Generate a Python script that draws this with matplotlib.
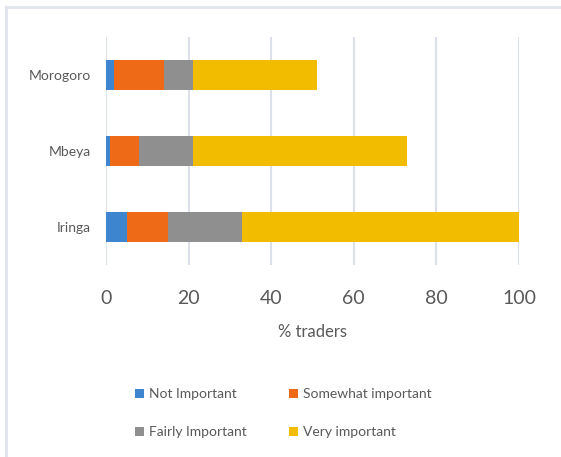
import matplotlib
matplotlib.use("Agg")
import matplotlib.pyplot as plt
from matplotlib.lines import Line2D
from matplotlib.patches import Patch
import numpy as np

plt.rcParams['font.family'] = ['Lato', 'DejaVu Sans']

regions = ["Iringa", "Mbeya", "Morogoro"]
not_important = [5, 1, 2]
somewhat_important = [10, 7, 12]
fairly_important = [18, 13, 7]
very_important = [67, 52, 30]

series = [
    ("Not Important", not_important, "#3d85cf"),
    ("Somewhat important", somewhat_important, "#ef6a17"),
    ("Fairly Important", fairly_important, "#8f8f8f"),
    ("Very important", very_important, "#f2bd00"),
]
xticks = [0, 20, 40, 60, 80, 100]

W, H = 561, 457
fig = plt.figure(figsize=(W / 100, H / 100), dpi=100)
ax = fig.add_axes([106 / W, 1 - 265 / H, (519 - 106) / W, (265 - 37) / H])

y = np.arange(len(regions))
left = np.zeros(len(regions))
handles = []
for name, vals, col in series:
    ax.barh(y, vals, left=left, height=0.4, color=col, zorder=3)
    left += np.array(vals)
    handles.append(Patch(facecolor=col, label=name))

ax.set_xlim(0, 100)
ax.set_ylim(-0.5, 2.5)
ax.set_yticks(y)
ax.set_yticklabels(regions, fontsize=10, color="#595959")
ax.set_xticks(xticks)
ax.set_xticklabels([str(t) for t in xticks], fontsize=14, color="#595959")
ax.tick_params(axis='both', length=0)
ax.tick_params(axis='x', pad=18)
ax.tick_params(axis='y', pad=11)
ax.grid(axis='x', color="#dce0e8", linewidth=1.5, zorder=0)
for s in ax.spines.values():
    s.set_visible(False)
ax.set_xlabel("% traders", fontsize=12, color="#595959", labelpad=12)

order = [handles[0], handles[2], handles[1], handles[3]]
leg = fig.legend(handles=order, labels=[h.get_label() for h in order],
                 ncol=2, loc='upper left', bbox_to_anchor=(122 / W, 1 - 376 / H),
                 frameon=False, fontsize=10, labelcolor="#595959",
                 handlelength=0.65, handleheight=0.65, handletextpad=0.4,
                 columnspacing=3.0, labelspacing=1.85)

# chart border (top & left visible)
fig.add_artist(Line2D([6 / W, 1], [1 - 7 / H, 1 - 7 / H], color="#e1e5ec", linewidth=2))
fig.add_artist(Line2D([6 / W, 6 / W], [0, 1 - 7 / H], color="#e1e5ec", linewidth=2))

fig.savefig("out.png", dpi=100, facecolor="white")
